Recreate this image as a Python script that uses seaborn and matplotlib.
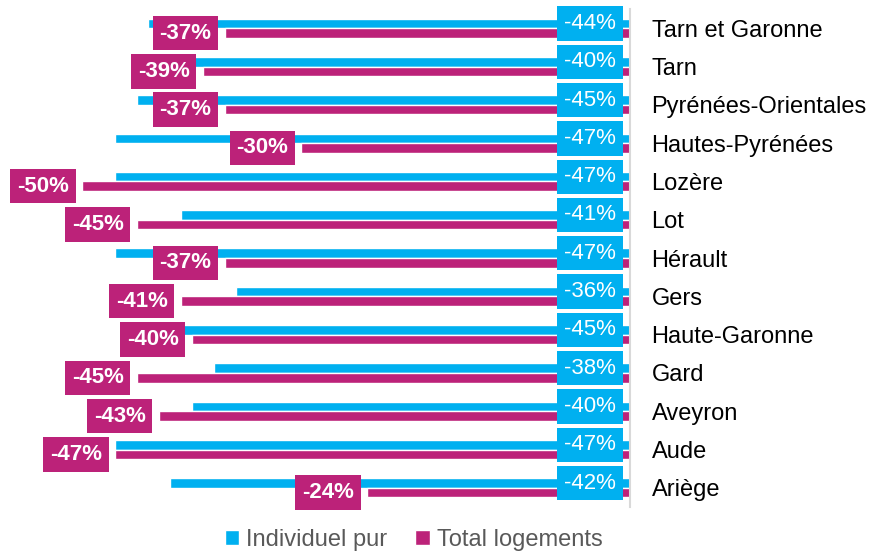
import pandas as pd
import matplotlib.pyplot as plt
import seaborn as sns

# data, top to bottom as in the reference
departements = ['Tarn et Garonne', 'Tarn', 'Pyrénées-Orientales', 'Hautes-Pyrénées',
                'Lozère', 'Lot', 'Hérault', 'Gers', 'Haute-Garonne', 'Gard',
                'Aveyron', 'Aude', 'Ariège']
individuel_pur = [-44, -40, -45, -47, -47, -41, -47, -36, -45, -38, -40, -47, -42]
total_logements = [-37, -39, -37, -30, -50, -45, -37, -41, -40, -45, -43, -47, -24]

series_names = ['Individuel pur', 'Total logements']
colors = ['#00B0F0', '#BC2279']

df = pd.DataFrame({
    'departement': departements * 2,
    'serie': [series_names[0]] * len(departements) + [series_names[1]] * len(departements),
    'evolution': individuel_pur + total_logements,
})

sns.set_style("white")
plt.rcParams['font.family'] = ['Liberation Sans', 'DejaVu Sans']

fig = plt.figure(figsize=(8.69, 5.52), dpi=100)
ax = fig.add_axes([0.0, 0.0815, 0.725, 0.902])

sns.barplot(data=df, x='evolution', y='departement', hue='serie', order=departements,
            hue_order=series_names, palette=colors, orient='h', width=0.5, gap=0,
            saturation=1, ax=ax, legend=True)

ax.set_xlim(-57.5, 0)
ax.set_ylim(len(departements) - 0.5, -0.5)

# axes styling
for side in ['left', 'top', 'bottom']:
    ax.spines[side].set_visible(False)
ax.spines['right'].set_color('#D9D9D9')
ax.spines['right'].set_linewidth(1.5)
ax.set_xticks([])
ax.yaxis.tick_right()
ax.tick_params(axis='y', length=0, pad=15.5, labelsize=17, labelcolor='black')
ax.set_xlabel('')
ax.set_ylabel('')

# cyan labels near the axis
ind_bars = ax.containers[0]
for bar, v in zip(ind_bars, individuel_pur):
    yc = bar.get_y() + bar.get_height() / 2
    ax.text(-3.65, yc, f"{v}%", ha='center', va='center', color='white', fontsize=16,
            bbox=dict(boxstyle='square,pad=0.3', fc=colors[0], ec='none'), zorder=5)

# magenta labels at bar ends
tot_bars = ax.containers[1]
ax.bar_label(tot_bars, labels=[f"{v}%" for v in total_logements], padding=9.5,
             color='white', fontsize=16, fontweight='bold',
             bbox=dict(boxstyle='square,pad=0.3', fc=colors[1], ec='none'), zorder=6)

# legend at the bottom
handles, labels = ax.get_legend_handles_labels()
ax.get_legend().remove()
fig.legend(handles, labels, loc='center', bbox_to_anchor=(0.476, 0.022), ncol=2,
           frameon=False, fontsize=17, labelcolor='#595959', handlelength=0.6,
           handleheight=0.6, handletextpad=0.3, columnspacing=1.2)

fig.savefig('out.png', dpi=100)
